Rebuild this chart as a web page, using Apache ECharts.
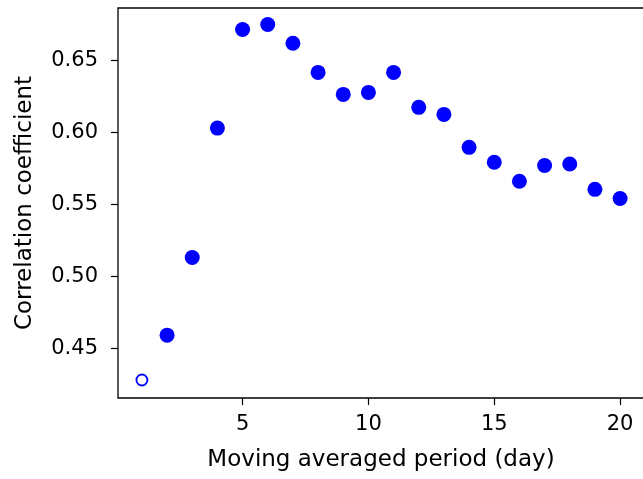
<!DOCTYPE html>
<html>
<head>
<meta charset="utf-8">
<script src="https://cdn.jsdelivr.net/npm/echarts@6/dist/echarts.min.js"></script>
<style>
html,body{margin:0;padding:0;background:#fff;}
#chart{width:643px;height:479px;}
</style>
</head>
<body>
<div id="chart"></div>
<script>
// Data
const periods = [1,2,3,4,5,6,7,8,9,10,11,12,13,14,15,16,17,18,19,20];
const corr = [0.4278,0.459,0.513,0.603,0.6715,0.675,0.662,0.6417,0.6264,0.6278,0.6417,0.6174,0.6125,0.5896,0.5792,0.566,0.577,0.578,0.5604,0.554];
const xTicks = [5,10,15,20];
const yTicks = [0.45,0.50,0.55,0.60,0.65];
const xTitle = 'Moving averaged period (day)';
const yTitle = 'Correlation coefficient';

const openPts = [[periods[0], corr[0]]];
const filledPts = periods.slice(1).map((p,i)=>[p, corr[i+1]]);

const font = 'DejaVu Sans';
const chart = echarts.init(document.getElementById('chart'), null, {renderer:'canvas'});
chart.setOption({
  animation:false,
  backgroundColor:'#ffffff',
  grid:{left:118, top:8, width:526, height:390, show:true, borderColor:'#000', borderWidth:1.3,
        backgroundColor:'transparent', containLabel:false, outerBoundsMode:'none'},
  xAxis:{
    type:'value', min:0.05, max:20.95,
    name:xTitle, nameLocation:'middle', nameGap:51,
    nameTextStyle:{fontFamily:font, fontSize:23, color:'#000'},
    axisLine:{show:false},
    splitLine:{show:false},
    axisTick:{show:true, length:7, inside:false, customValues:xTicks, lineStyle:{color:'#000', width:1.2}},
    axisLabel:{customValues:xTicks, margin:16, fontFamily:font, fontSize:21, color:'#000'}
  },
  yAxis:{
    type:'value', min:0.4153, max:0.6865,
    name:yTitle, nameLocation:'middle', nameGap:81, nameRotate:90,
    nameTextStyle:{fontFamily:font, fontSize:23, color:'#000'},
    axisLine:{show:false},
    splitLine:{show:false},
    axisTick:{show:true, length:7, inside:false, customValues:yTicks, lineStyle:{color:'#000', width:1.2}},
    axisLabel:{customValues:yTicks, margin:20, fontFamily:font, fontSize:21, color:'#000', formatter:v=>v.toFixed(2)}
  },
  series:[
    {type:'scatter', data:filledPts, symbol:'circle', symbolSize:15, itemStyle:{color:'#0000ff', opacity:1}},
    {type:'scatter', data:openPts, symbol:'circle', symbolSize:11, itemStyle:{color:'#ffffff', borderColor:'#0000ff', borderWidth:1.8, opacity:1}}
  ]
});
</script>
</body>
</html>
